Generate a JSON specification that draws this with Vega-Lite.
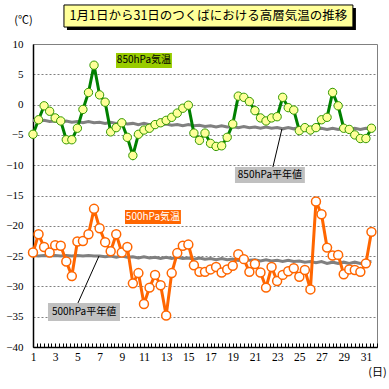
{
  "$schema": "https://vega.github.io/schema/vega-lite/v6.json",
  "autosize": "none",
  "width": 344,
  "height": 303,
  "padding": {"left": 33, "top": 44, "right": 12, "bottom": 42},
  "background": "white",
  "config": {
    "view": {"stroke": "#808080", "strokeWidth": 1},
    "axis": {"labelFont": "Liberation Serif", "titleFont": "Noto Sans CJK JP", "labelColor": "#000", "titleColor": "#000", "domainColor": "#000", "domainWidth": 1.5}
  },
  "resolve": {"axis": {"x": "independent", "y": "independent"}},
  "datasets": {
    "obs": [
      {"d": 1, "t850": -4.9, "t500": -24.4, "n850": -2.6, "n500": -24.9},
      {"d": 1.5, "t850": -2.5, "t500": -21.4, "n850": -2.8, "n500": -25.0},
      {"d": 2, "t850": -0.2, "t500": -23.5, "n850": -2.6, "n500": -24.9},
      {"d": 2.5, "t850": -1.1, "t500": -24.4, "n850": -2.8, "n500": -25.0},
      {"d": 3, "t850": -2.2, "t500": -23.2, "n850": -2.7, "n500": -24.9},
      {"d": 3.5, "t850": -2.7, "t500": -23.3, "n850": -2.9, "n500": -25.0},
      {"d": 4, "t850": -5.8, "t500": -25.9, "n850": -2.7, "n500": -24.9},
      {"d": 4.5, "t850": -5.8, "t500": -28.3, "n850": -2.9, "n500": -25.0},
      {"d": 5, "t850": -3.9, "t500": -22.6, "n850": -2.8, "n500": -24.9},
      {"d": 5.5, "t850": -0.8, "t500": -22.5, "n850": -3.0, "n500": -25.0},
      {"d": 6, "t850": 2.0, "t500": -21.4, "n850": -2.8, "n500": -24.9},
      {"d": 6.5, "t850": 6.5, "t500": -17.2, "n850": -3.0, "n500": -25.0},
      {"d": 7, "t850": 1.6, "t500": -20.4, "n850": -2.9, "n500": -25.0},
      {"d": 7.5, "t850": 0.4, "t500": -22.7, "n850": -3.1, "n500": -25.1},
      {"d": 8, "t850": -4.5, "t500": -24.2, "n850": -2.9, "n500": -25.0},
      {"d": 8.5, "t850": -3.8, "t500": -21.4, "n850": -3.1, "n500": -25.2},
      {"d": 9, "t850": -3.0, "t500": -24.4, "n850": -3.0, "n500": -25.0},
      {"d": 9.5, "t850": -5.4, "t500": -23.5, "n850": -3.2, "n500": -25.2},
      {"d": 10, "t850": -8.4, "t500": -29.5, "n850": -3.1, "n500": -25.1},
      {"d": 10.5, "t850": -4.9, "t500": -27.8, "n850": -3.3, "n500": -25.3},
      {"d": 11, "t850": -4.2, "t500": -32.9, "n850": -3.1, "n500": -25.1},
      {"d": 11.5, "t850": -3.9, "t500": -30.2, "n850": -3.3, "n500": -25.3},
      {"d": 12, "t850": -3.3, "t500": -28.1, "n850": -3.2, "n500": -25.2},
      {"d": 12.5, "t850": -3.0, "t500": -29.8, "n850": -3.4, "n500": -25.4},
      {"d": 13, "t850": -2.6, "t500": -34.8, "n850": -3.2, "n500": -25.2},
      {"d": 13.5, "t850": -2.1, "t500": -27.8, "n850": -3.4, "n500": -25.4},
      {"d": 14, "t850": -1.4, "t500": -24.5, "n850": -3.3, "n500": -25.2},
      {"d": 14.5, "t850": -0.6, "t500": -23.3, "n850": -3.5, "n500": -25.4},
      {"d": 15, "t850": -0.1, "t500": -23.1, "n850": -3.3, "n500": -25.3},
      {"d": 15.5, "t850": -4.7, "t500": -26.5, "n850": -3.5, "n500": -25.5},
      {"d": 16, "t850": -5.9, "t500": -27.6, "n850": -3.4, "n500": -25.3},
      {"d": 16.5, "t850": -4.7, "t500": -27.6, "n850": -3.6, "n500": -25.5},
      {"d": 17, "t850": -6.4, "t500": -27.2, "n850": -3.5, "n500": -25.4},
      {"d": 17.5, "t850": -6.9, "t500": -26.8, "n850": -3.7, "n500": -25.6},
      {"d": 18, "t850": -6.8, "t500": -27.7, "n850": -3.5, "n500": -25.4},
      {"d": 18.5, "t850": -5.4, "t500": -27.2, "n850": -3.7, "n500": -25.6},
      {"d": 19, "t850": -3.2, "t500": -26.6, "n850": -3.6, "n500": -25.5},
      {"d": 19.5, "t850": 1.4, "t500": -24.7, "n850": -3.8, "n500": -25.7},
      {"d": 20, "t850": 1.2, "t500": -25.5, "n850": -3.6, "n500": -25.5},
      {"d": 20.5, "t850": 0.5, "t500": -27.6, "n850": -3.8, "n500": -25.7},
      {"d": 21, "t850": -1.0, "t500": -26.3, "n850": -3.7, "n500": -25.6},
      {"d": 21.5, "t850": -2.2, "t500": -27.7, "n850": -3.9, "n500": -25.8},
      {"d": 22, "t850": -2.7, "t500": -30.2, "n850": -3.7, "n500": -25.6},
      {"d": 22.5, "t850": -2.2, "t500": -26.8, "n850": -3.9, "n500": -25.8},
      {"d": 23, "t850": -2.0, "t500": -29.1, "n850": -3.8, "n500": -25.7},
      {"d": 23.5, "t850": 1.2, "t500": -28.1, "n850": -4.0, "n500": -25.9},
      {"d": 24, "t850": -0.5, "t500": -27.5, "n850": -3.8, "n500": -25.7},
      {"d": 24.5, "t850": -0.9, "t500": -27.0, "n850": -4.0, "n500": -25.9},
      {"d": 25, "t850": -4.3, "t500": -28.4, "n850": -3.8, "n500": -25.8},
      {"d": 25.5, "t850": -3.8, "t500": -27.3, "n850": -4.0, "n500": -26.0},
      {"d": 26, "t850": -4.2, "t500": -30.5, "n850": -3.9, "n500": -25.9},
      {"d": 26.5, "t850": -3.8, "t500": -16.0, "n850": -4.1, "n500": -26.1},
      {"d": 27, "t850": -2.5, "t500": -18.1, "n850": -3.9, "n500": -25.9},
      {"d": 27.5, "t850": -2.1, "t500": -23.6, "n850": -4.1, "n500": -26.2},
      {"d": 28, "t850": 2.0, "t500": -24.9, "n850": -3.9, "n500": -26.0},
      {"d": 28.5, "t850": -0.2, "t500": -24.8, "n850": -4.1, "n500": -26.2},
      {"d": 29, "t850": -3.9, "t500": -28.0, "n850": -3.9, "n500": -26.0},
      {"d": 29.5, "t850": -4.1, "t500": -27.2, "n850": -4.1, "n500": -26.2},
      {"d": 30, "t850": -5.0, "t500": -27.3, "n850": -3.9, "n500": -26.0},
      {"d": 30.5, "t850": -5.6, "t500": -27.6, "n850": -4.1, "n500": -26.2},
      {"d": 31, "t850": -5.6, "t500": -26.2, "n850": -3.9, "n500": -26.0},
      {"d": 31.5, "t850": -3.9, "t500": -21.0, "n850": -4.0, "n500": -25.9}
    ]
  },
  "layer": [
    {
      "data": {"name": "obs"},
      "encoding": {
        "x": {"field": "d", "type": "quantitative",
          "scale": {"domain": [1, 32], "nice": false, "zero": false},
          "axis": {
            "title": "(日)", "titleFontSize": 11, "titleFontWeight": "normal", "titleX": 344, "titleY": 25, "titleAlign": "center", "titleBaseline": "middle",
            "values": [1,1.3333,1.6667,2,2.3333,2.6667,3,3.3333,3.6667,4,4.3333,4.6667,5,5.3333,5.6667,6,6.3333,6.6667,7,7.3333,7.6667,8,8.3333,8.6667,9,9.3333,9.6667,10,10.3333,10.6667,11,11.3333,11.6667,12,12.3333,12.6667,13,13.3333,13.6667,14,14.3333,14.6667,15,15.3333,15.6667,16,16.3333,16.6667,17,17.3333,17.6667,18,18.3333,18.6667,19,19.3333,19.6667,20,20.3333,20.6667,21,21.3333,21.6667,22,22.3333,22.6667,23,23.3333,23.6667,24,24.3333,24.6667,25,25.3333,25.6667,26,26.3333,26.6667,27,27.3333,27.6667,28,28.3333,28.6667,29,29.3333,29.6667,30,30.3333,30.6667,31,31.3333,31.6667,32],
            "labelExpr": "abs(datum.value - round(datum.value)) < 0.01 && round(datum.value) % 2 == 1 ? '' + round(datum.value) : ''",
            "labelOverlap": false, "labelFlush": false, "labelFontSize": 11.5, "labelPadding": 8,
            "tickSize": -4, "tickColor": "#000", "tickWidth": 1, "grid": false
          }
        },
        "y": {"type": "quantitative",
          "scale": {"domain": [-40, 10], "nice": false, "zero": false},
          "axis": {
            "title": "(℃)", "titleAngle": 0, "titleFontSize": 11, "titleFontWeight": "normal", "titleX": -10, "titleY": -24, "titleAlign": "center", "titleBaseline": "middle",
            "values": [-40,-35,-30,-25,-20,-15,-10,-5,0,5,10],
            "labelFontSize": 11, "labelPadding": 10, "tickSize": 0,
            "grid": true, "gridColor": "#808080", "gridDash": [2, 2], "gridWidth": 1
          }
        }
      },
      "layer": [
        {"mark": {"type": "line", "color": "#808080", "strokeWidth": 3}, "encoding": {"y": {"field": "n850"}}},
        {"mark": {"type": "line", "color": "#808080", "strokeWidth": 3}, "encoding": {"y": {"field": "n500"}}},
        {"mark": {"type": "line", "color": "#008000", "strokeWidth": 3}, "encoding": {"y": {"field": "t850"}}},
        {"mark": {"type": "point", "shape": "circle", "filled": true, "fill": "#FFFF99", "stroke": "#339900", "strokeWidth": 1, "opacity": 1, "size": 70}, "encoding": {"y": {"field": "t850"}}},
        {"mark": {"type": "line", "color": "#FF6600", "strokeWidth": 3}, "encoding": {"y": {"field": "t500"}}},
        {"mark": {"type": "point", "shape": "circle", "filled": true, "fill": "#FFFFFF", "stroke": "#FF6600", "strokeWidth": 1.5, "opacity": 1, "size": 80}, "encoding": {"y": {"field": "t500"}}}
      ]
    },
    {"data": {"values": [{}]}, "mark": {"type": "rule", "color": "#000", "strokeWidth": 1},
      "encoding": {"x": {"datum": 23.43, "axis": null, "scale": {"domain": [1, 32], "nice": false, "zero": false}}, "x2": {"datum": 22.62}, "y": {"datum": -4.03, "axis": null, "scale": {"domain": [-40, 10], "nice": false, "zero": false}}, "y2": {"datum": -10.3}}},
    {"data": {"values": [{}]}, "mark": {"type": "rule", "color": "#000", "strokeWidth": 1},
      "encoding": {"x": {"datum": 6.95, "axis": null, "scale": {"domain": [1, 32], "nice": false, "zero": false}}, "x2": {"datum": 5.05}, "y": {"datum": -24.98, "axis": null, "scale": {"domain": [-40, 10], "nice": false, "zero": false}}, "y2": {"datum": -32.74}}},
    {"data": {"values": [{}]}, "mark": {"type": "rect", "color": "#99CC00", "opacity": 1},
      "encoding": {"x": {"datum": 8.48, "axis": null, "scale": {"domain": [1, 32], "nice": false, "zero": false}}, "x2": {"datum": 13.52}, "y": {"datum": 8.51, "axis": null, "scale": {"domain": [-40, 10], "nice": false, "zero": false}}, "y2": {"datum": 6.04}}},
    {"data": {"values": [{}]}, "mark": {"type": "text", "text": "850hPa気温", "font": "Noto Sans CJK JP", "fontSize": 10, "color": "#000", "align": "center", "baseline": "middle"},
      "encoding": {"x": {"datum": 11.0, "axis": null, "scale": {"domain": [1, 32], "nice": false, "zero": false}}, "y": {"datum": 7.3, "axis": null, "scale": {"domain": [-40, 10], "nice": false, "zero": false}}}},
    {"data": {"values": [{}]}, "mark": {"type": "rect", "color": "#C0C0C0", "opacity": 1},
      "encoding": {"x": {"datum": 19.2, "axis": null, "scale": {"domain": [1, 32], "nice": false, "zero": false}}, "x2": {"datum": 25.5}, "y": {"datum": -10.3, "axis": null, "scale": {"domain": [-40, 10], "nice": false, "zero": false}}, "y2": {"datum": -12.94}}},
    {"data": {"values": [{}]}, "mark": {"type": "text", "text": "850hPa平年値", "font": "Noto Sans CJK JP", "fontSize": 10, "color": "#000", "align": "center", "baseline": "middle"},
      "encoding": {"x": {"datum": 22.35, "axis": null, "scale": {"domain": [1, 32], "nice": false, "zero": false}}, "y": {"datum": -11.62, "axis": null, "scale": {"domain": [-40, 10], "nice": false, "zero": false}}}},
    {"data": {"values": [{}]}, "mark": {"type": "rect", "color": "#FF6600", "opacity": 1},
      "encoding": {"x": {"datum": 9.29, "axis": null, "scale": {"domain": [1, 32], "nice": false, "zero": false}}, "x2": {"datum": 14.33}, "y": {"datum": -17.39, "axis": null, "scale": {"domain": [-40, 10], "nice": false, "zero": false}}, "y2": {"datum": -19.7}}},
    {"data": {"values": [{}]}, "mark": {"type": "text", "text": "500hPa気温", "font": "Noto Sans CJK JP", "fontSize": 10, "color": "#FFFFFF", "align": "center", "baseline": "middle"},
      "encoding": {"x": {"datum": 11.81, "axis": null, "scale": {"domain": [1, 32], "nice": false, "zero": false}}, "y": {"datum": -18.55, "axis": null, "scale": {"domain": [-40, 10], "nice": false, "zero": false}}}},
    {"data": {"values": [{}]}, "mark": {"type": "rect", "color": "#C0C0C0", "opacity": 1},
      "encoding": {"x": {"datum": 2.35, "axis": null, "scale": {"domain": [1, 32], "nice": false, "zero": false}}, "x2": {"datum": 8.84}, "y": {"datum": -32.74, "axis": null, "scale": {"domain": [-40, 10], "nice": false, "zero": false}}, "y2": {"datum": -35.71}}},
    {"data": {"values": [{}]}, "mark": {"type": "text", "text": "500hPa平年値", "font": "Noto Sans CJK JP", "fontSize": 10, "color": "#000", "align": "center", "baseline": "middle"},
      "encoding": {"x": {"datum": 5.6, "axis": null, "scale": {"domain": [1, 32], "nice": false, "zero": false}}, "y": {"datum": -34.2, "axis": null, "scale": {"domain": [-40, 10], "nice": false, "zero": false}}}},
    {"data": {"values": [{}]}, "mark": {"type": "rect", "color": "#000000", "opacity": 1},
      "encoding": {"x": {"datum": 4.06, "axis": null, "scale": {"domain": [1, 32], "nice": false, "zero": false}}, "x2": {"datum": 30.1}, "y": {"datum": 15.94, "axis": null, "scale": {"domain": [-40, 10], "nice": false, "zero": false}}, "y2": {"datum": 12.31}}},
    {"data": {"values": [{}]}, "mark": {"type": "rect", "fill": "#FFFF99", "stroke": "#000000", "strokeWidth": 1, "opacity": 1},
      "encoding": {"x": {"datum": 3.79, "axis": null, "scale": {"domain": [1, 32], "nice": false, "zero": false}}, "x2": {"datum": 29.83}, "y": {"datum": 16.44, "axis": null, "scale": {"domain": [-40, 10], "nice": false, "zero": false}}, "y2": {"datum": 12.8}}},
    {"data": {"values": [{}]}, "mark": {"type": "text", "text": "1月1日から31日のつくばにおける高層気温の推移", "font": "Noto Sans CJK JP", "fontSize": 12.5, "color": "#000", "align": "center", "baseline": "middle"},
      "encoding": {"x": {"datum": 16.81, "axis": null, "scale": {"domain": [1, 32], "nice": false, "zero": false}}, "y": {"datum": 14.62, "axis": null, "scale": {"domain": [-40, 10], "nice": false, "zero": false}}}}
  ]
}
